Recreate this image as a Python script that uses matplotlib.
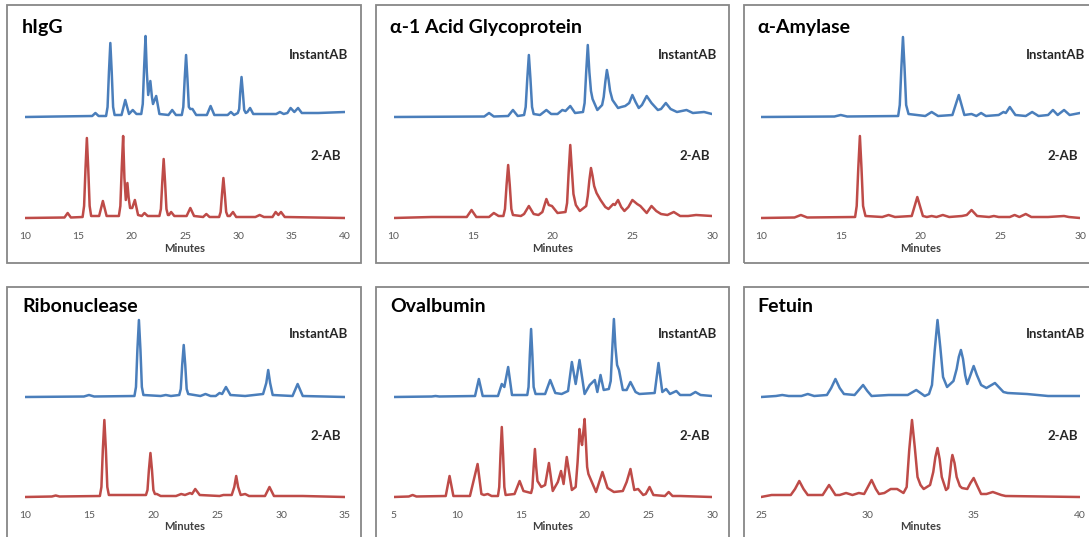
import matplotlib.pyplot as plt
from matplotlib.patches import Rectangle
import numpy as np

plt.rcParams['font.family'] = ['Lato', 'DejaVu Sans']

# peak traces: (minutes, height in px above baseline)
higg_instant = [(10, 0), (13, 0.5), (16.3, 1), (16.6, 4), (16.9, 1), (17.6, 1), (17.74, 10), (17.87, 45),
                (18.0, 74), (18.13, 45), (18.26, 10), (18.4, 2), (19.05, 2), (19.4, 17), (19.75, 3), (20.1, 7),
                (20.45, 3), (20.9, 3), (21.04, 13), (21.17, 50), (21.3, 81), (21.42, 45), (21.55, 22),
                (21.75, 36), (21.9, 20), (22.0, 13), (22.3, 21), (22.6, 3), (23.45, 2), (23.8, 7), (24.15, 2),
                (24.7, 2), (24.84, 10), (24.97, 38), (25.1, 62), (25.23, 38), (25.36, 10), (25.5, 8),
                (25.7, 8), (26.05, 2), (27.05, 2), (27.4, 11), (27.75, 2), (29.0, 2), (29.3, 5), (29.6, 2),
                (29.95, 4), (30.08, 8), (30.18, 25), (30.3, 40), (30.42, 25), (30.55, 7), (30.7, 4),
                (30.85, 5), (31.1, 9), (31.4, 3), (33.55, 3), (33.9, 5), (34.25, 3), (34.6, 4), (34.9, 9),
                (35.25, 5), (35.6, 9), (35.95, 4), (37.5, 4), (40, 5)]
higg_2ab = [(10, 0), (13.7, 0.5), (14.0, 5), (14.3, 0.5), (15.4, 1), (15.54, 12), (15.67, 49), (15.8, 80),
            (15.93, 49), (16.06, 12), (16.2, 2), (16.95, 2), (17.3, 17), (17.65, 2), (18.8, 2), (18.94, 12),
            (19.07, 50), (19.2, 82), (19.32, 40), (19.45, 18), (19.6, 35), (19.72, 20), (19.85, 10),
            (20.05, 10), (20.3, 18), (20.6, 3), (20.95, 2), (21.2, 5), (21.5, 2), (22.6, 2), (22.74, 9),
            (22.87, 36), (23.0, 59), (23.13, 36), (23.26, 9), (23.4, 3), (23.5, 3), (23.7, 6), (24.0, 2),
            (25.15, 2), (25.5, 10), (25.85, 2), (26.7, 1), (27.0, 4), (27.3, 1), (28.2, 1), (28.34, 6),
            (28.47, 24), (28.6, 40), (28.73, 24), (28.86, 6), (29.0, 2), (29.2, 2), (29.5, 6), (29.8, 1),
            (31.6, 1), (32.0, 3), (32.4, 1), (33.2, 1), (33.5, 6), (33.75, 3), (34.0, 6), (34.35, 1), (40, 0)]

agp_instant = [(10, 0), (15.7, 0.5), (16.0, 4), (16.3, 0.5), (17.2, 1), (17.5, 7), (17.8, 1), (18.2, 2),
               (18.3, 10), (18.4, 38), (18.5, 62), (18.6, 38), (18.7, 10), (18.8, 3), (19.2, 2), (19.6, 7),
               (19.9, 3), (20.3, 3), (20.6, 7), (20.8, 6), (21.1, 11), (21.4, 4), (21.9, 5), (22.0, 14),
               (22.1, 45), (22.2, 72), (22.3, 45), (22.4, 26), (22.5, 18), (22.8, 7), (23.1, 12), (23.2, 20),
               (23.3, 35), (23.4, 47), (23.5, 38), (23.6, 26), (23.75, 17), (24.1, 9), (24.3, 10),
               (24.55, 11), (24.8, 14), (25.0, 22), (25.2, 15), (25.4, 9), (25.6, 12), (25.9, 21), (26.2, 14),
               (26.6, 7), (26.8, 8), (27.1, 14), (27.4, 8), (27.8, 5), (28.4, 7), (28.8, 4), (29.5, 5), (30, 3)]
agp_2ab = [(10, 0), (12.4, 1), (14.6, 1), (14.9, 8), (15.2, 1), (16.0, 1), (16.3, 5), (16.6, 2), (16.9, 2),
           (17.0, 9), (17.1, 33), (17.2, 53), (17.3, 33), (17.4, 9), (17.5, 3), (18.0, 2), (18.2, 4),
           (18.5, 12), (18.8, 4), (19.1, 3), (19.35, 6), (19.6, 19), (19.75, 13), (19.95, 12), (20.3, 5),
           (20.8, 6), (20.9, 15), (21.0, 46), (21.1, 73), (21.2, 48), (21.3, 24), (21.45, 13), (21.7, 7),
           (22.1, 12), (22.2, 22), (22.3, 38), (22.4, 50), (22.5, 42), (22.6, 32), (22.75, 25), (23.0, 18),
           (23.3, 11), (23.5, 9), (23.8, 14), (23.9, 13), (24.1, 18), (24.3, 11), (24.5, 7), (24.75, 11),
           (25.0, 18), (25.3, 14), (25.5, 12), (25.9, 5), (26.2, 12), (26.5, 7), (26.8, 4), (27.2, 3),
           (27.6, 6), (28.0, 2), (28.5, 2), (29.0, 3), (30, 2)]

amy_instant = [(10, 0), (14.6, 0.5), (15.0, 2), (15.4, 0.5), (18.6, 1), (18.7, 12), (18.8, 49), (18.9, 80),
               (19.0, 49), (19.1, 12), (19.25, 3), (20.3, 1), (20.7, 5), (21.1, 1), (22.0, 2), (22.4, 22),
               (22.75, 2), (23.2, 3), (23.5, 1), (23.8, 4), (24.1, 1), (24.9, 2), (25.2, 5), (25.35, 4),
               (25.6, 10), (25.95, 2), (26.6, 1), (27.0, 5), (27.4, 1), (28.0, 2), (28.3, 7), (28.6, 2),
               (29.0, 7), (29.35, 2), (30, 4)]
amy_2ab = [(10, 0), (12.1, 0.5), (12.5, 3), (12.9, 0.5), (15.9, 1), (16.0, 12), (16.1, 50), (16.2, 82),
           (16.3, 50), (16.4, 12), (16.55, 2), (17.6, 1), (18.0, 3), (18.4, 1), (19.45, 2), (19.8, 21),
           (20.15, 2), (20.4, 1), (20.7, 2), (21.0, 1), (21.4, 3), (21.8, 1), (22.6, 2), (22.9, 3), (23.2, 8),
           (23.55, 2), (24.3, 1), (24.6, 2), (24.9, 1), (25.6, 1), (25.9, 3), (26.2, 1), (26.6, 4),
           (26.95, 1), (28.0, 1), (29.0, 2), (29.3, 1), (30, 0)]

rib_instant = [(10, 0), (14.6, 0.5), (15.0, 2), (15.4, 0.5), (18.55, 1), (18.67, 10), (18.78, 47),
               (18.9, 77), (19.02, 47), (19.13, 10), (19.25, 2), (20.6, 1), (21.0, 2), (21.4, 1), (22.05, 2),
               (22.17, 8), (22.28, 32), (22.4, 52), (22.52, 32), (22.63, 8), (22.75, 3), (23.7, 1), (24.1, 3),
               (24.5, 1), (24.9, 1), (25.2, 4), (25.4, 3), (25.7, 10), (26.05, 2), (27.2, 1), (28.6, 3),
               (28.85, 14), (29.0, 27), (29.15, 14), (29.35, 2), (30.9, 1), (31.3, 13), (31.7, 1), (35, 0)]
rib_2ab = [(10, 0), (12.1, 0.5), (12.4, 1.5), (12.7, 0.5), (15.85, 1), (15.97, 10), (16.08, 47), (16.2, 77),
           (16.32, 47), (16.43, 10), (16.55, 2), (19.45, 2), (19.57, 7), (19.68, 27), (19.8, 44),
           (19.92, 27), (20.03, 7), (20.15, 3), (20.3, 3), (20.6, 1), (21.8, 1), (22.2, 3), (22.5, 2),
           (22.9, 4), (23.05, 3), (23.3, 8), (23.65, 2), (25.2, 1), (25.5, 2), (26.15, 2), (26.35, 10),
           (26.5, 21), (26.65, 10), (26.85, 2), (27.2, 3), (27.5, 1), (28.75, 1), (29.1, 10), (29.45, 1),
           (31.7, 1), (35, 0)]

ova_instant = [(5, 0), (8.0, 0.5), (8.3, 1), (8.6, 0.5), (11.4, 1), (11.7, 18), (12.0, 1), (13.2, 1),
               (13.5, 13), (13.7, 10), (14.0, 30), (14.3, 2), (14.9, 2), (15.5, 2), (15.6, 10), (15.7, 42),
               (15.8, 68), (15.9, 42), (16.0, 10), (16.15, 3), (16.9, 3), (17.3, 17), (17.7, 4), (18.2, 3),
               (18.7, 6), (19.0, 35), (19.3, 13), (19.6, 37), (20.0, 3), (20.4, 12), (20.8, 17), (21.0, 5),
               (21.25, 22), (21.5, 7), (21.9, 8), (22.05, 16), (22.18, 50), (22.3, 78), (22.42, 50),
               (22.55, 32), (22.7, 27), (23.0, 7), (23.3, 7), (23.6, 15), (24.0, 5), (24.3, 3), (25.5, 4),
               (25.8, 34), (26.1, 5), (26.4, 8), (26.7, 3), (27.2, 6), (27.5, 2), (28.3, 2), (28.7, 5),
               (29.1, 2), (30, 1)]
ova_2ab = [(5, 0), (6.2, 0.5), (6.5, 2), (6.8, 0.5), (9.1, 1), (9.4, 21), (9.7, 1), (11.0, 1), (11.3, 17),
           (11.6, 33), (11.9, 3), (12.1, 2), (12.4, 3), (12.7, 1), (13.2, 1), (13.3, 10), (13.4, 43),
           (13.5, 70), (13.6, 43), (13.7, 10), (13.8, 2), (14.5, 3), (14.9, 16), (15.2, 6), (15.5, 5),
           (15.8, 4), (15.9, 9), (16.0, 30), (16.1, 48), (16.2, 30), (16.3, 16), (16.4, 14), (16.6, 10),
           (16.9, 12), (17.2, 34), (17.5, 6), (17.9, 15), (18.15, 26), (18.35, 13), (18.6, 40), (19.0, 7),
           (19.3, 10), (19.45, 35), (19.6, 68), (19.7, 58), (19.8, 52), (19.9, 65), (20.0, 78), (20.1, 55),
           (20.2, 30), (20.3, 23), (20.5, 17), (20.9, 5), (21.4, 25), (21.8, 9), (22.3, 5), (23.0, 6),
           (23.3, 15), (23.6, 28), (23.9, 7), (24.2, 8), (24.6, 2), (24.8, 3), (25.1, 10), (25.4, 2),
           (26.3, 1), (26.6, 5), (26.9, 1), (27.5, 1), (30, 0)]

fet_instant = [(25, 0), (25.7, 1), (26.0, 2), (26.3, 1), (26.9, 1), (27.2, 3), (27.5, 1), (28.1, 2),
               (28.3, 9), (28.5, 18), (28.7, 9), (28.9, 3), (29.4, 2), (29.6, 7), (29.8, 12), (30.0, 6),
               (30.2, 1), (31.0, 2), (31.9, 2), (32.3, 7), (32.7, 1), (32.9, 3), (33.04, 12), (33.17, 47),
               (33.3, 77), (33.43, 50), (33.56, 20), (33.75, 10), (34.05, 16), (34.2, 28), (34.3, 40),
               (34.4, 47), (34.5, 38), (34.6, 22), (34.7, 13), (34.85, 22), (35.0, 31), (35.15, 22),
               (35.35, 12), (35.6, 9), (36.0, 14), (36.4, 5), (36.6, 4), (37.5, 3), (38.5, 1), (40, 1)]
fet_2ab = [(25, 0), (25.5, 2), (26.4, 2), (26.6, 8), (26.8, 16), (27.0, 8), (27.2, 2), (27.5, 2), (27.9, 2),
           (28.2, 12), (28.5, 2), (28.7, 2), (29.0, 4), (29.3, 2), (29.6, 4), (29.85, 3), (30.0, 9),
           (30.2, 17), (30.4, 8), (30.55, 3), (30.8, 4), (31.1, 8), (31.4, 8), (31.7, 4), (31.85, 10),
           (31.97, 47), (32.1, 77), (32.23, 50), (32.36, 20), (32.5, 12), (32.65, 8), (32.95, 12),
           (33.1, 25), (33.2, 40), (33.3, 49), (33.4, 38), (33.5, 20), (33.7, 7), (33.8, 9), (33.88, 22),
           (33.95, 36), (34.0, 42), (34.1, 34), (34.2, 20), (34.35, 11), (34.45, 9), (34.7, 8),
           (34.85, 14), (35.0, 19), (35.15, 12), (35.35, 3), (35.6, 3), (35.9, 5), (36.3, 2), (36.5, 1),
           (40, 0)]

titles = ['hIgG', 'α-1 Acid Glycoprotein', 'α-Amylase', 'Ribonuclease', 'Ovalbumin', 'Fetuin']
x_ranges = [(10, 40), (10, 30), (10, 30), (10, 35), (5, 30), (25, 40)]
instant_traces = [higg_instant, agp_instant, amy_instant, rib_instant, ova_instant, fet_instant]
twoab_traces = [higg_2ab, agp_2ab, amy_2ab, rib_2ab, ova_2ab, fet_2ab]

W, H = 1089, 537
fig = plt.figure(figsize=(W / 100, H / 100), dpi=100)

def rect(x0, y0, x1, y1):
    # picture pixels (top-left origin) -> figure fraction
    return [x0 / W, 1 - y1 / H, (x1 - x0) / W, (y1 - y0) / H]

blue = '#4a7ebb'
red = '#be4b48'

# layout per row / column (pixels)
rows = [dict(box=(5, 263), ax=(20, 223), base=218, off=101, minutes=248, title=27, inst=55, two=156),
        dict(box=(287, 560), ax=(300, 502), base=497, off=100, minutes=527, title=307, inst=334, two=436)]
cols = [dict(box=(7, 361), ax=(25, 345), title=22, inst=348, two=341),
        dict(box=(376, 729), ax=(393.5, 712), title=390, inst=717, two=710),
        dict(box=(744, 1110), ax=(761, 1080), title=757, inst=1085, two=1078)]

for i in range(6):
    r = rows[i // 3]
    c = cols[i % 3]

    # grey frame round each chart
    fig.patches.append(Rectangle((c['box'][0] / W, 1 - r['box'][1] / H),
                                 (c['box'][1] - c['box'][0]) / W, (r['box'][1] - r['box'][0]) / H,
                                 transform=fig.transFigure, fill=False, edgecolor='#878787', linewidth=1.3))

    ax = fig.add_axes(rect(c['ax'][0], r['ax'][0], c['ax'][1], r['ax'][1]))
    ax.set_facecolor('none')
    t1, h1 = np.array(instant_traces[i]).T
    t2, h2 = np.array(twoab_traces[i]).T
    ax.plot(t1, h1 + r['off'], color=blue, lw=1.8, solid_joinstyle='round')
    ax.plot(t2, h2, color=red, lw=1.8, solid_joinstyle='round')

    x0, x1 = x_ranges[i]
    ax.set_xlim(x0, x1)
    ax.set_ylim(-(r['ax'][1] - r['base']), r['base'] - r['ax'][0])
    ax.set_xticks(np.arange(x0, x1 + 1, 5))
    ax.tick_params(axis='x', length=0, pad=6.5, labelsize=7.5, labelcolor='#595959')
    ax.set_yticks([])
    for s in ax.spines.values():
        s.set_visible(False)

    cx = (c['ax'][0] + c['ax'][1]) / 2
    fig.text(cx / W, 1 - r['minutes'] / H, 'Minutes', ha='center', va='center',
             fontsize=8, fontweight='bold', color='#404040')
    fig.text(c['title'] / W, 1 - r['title'] / H, titles[i], ha='left', va='center',
             fontsize=14, fontweight='bold', color='black')
    fig.text(c['inst'] / W, 1 - r['inst'] / H, 'InstantAB', ha='right', va='center',
             fontsize=9.5, fontweight='bold', color='#262626')
    fig.text(c['two'] / W, 1 - r['two'] / H, '2-AB', ha='right', va='center',
             fontsize=9.5, fontweight='bold', color='#262626')

fig.savefig('out.png', dpi=100, facecolor='white')
